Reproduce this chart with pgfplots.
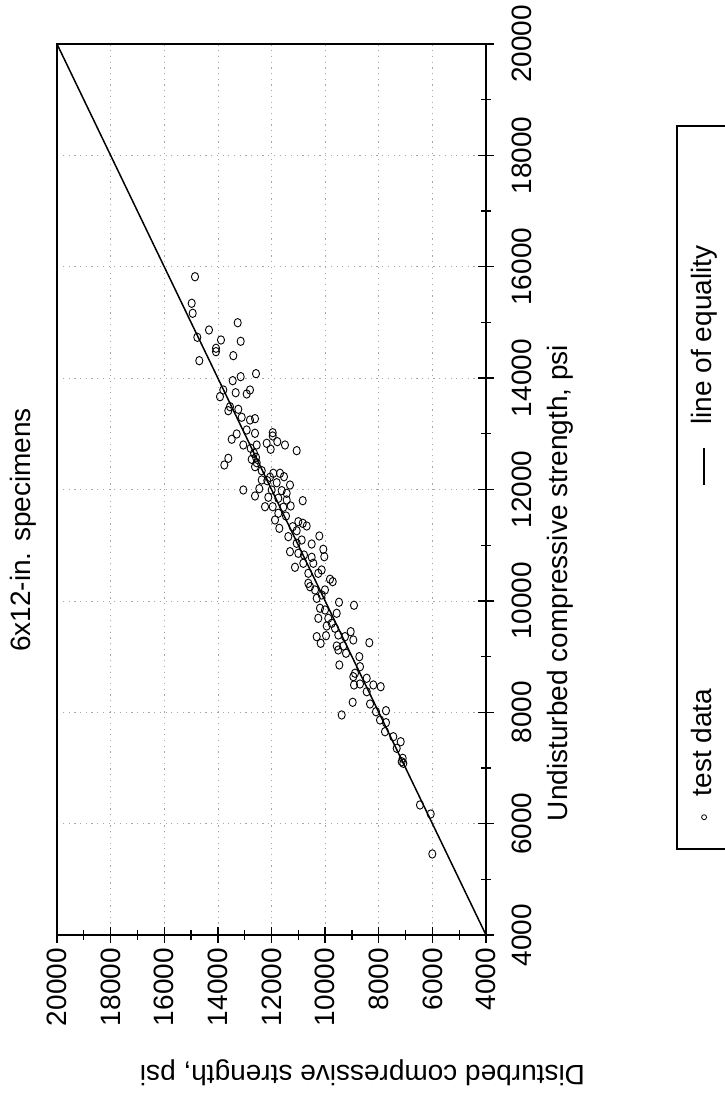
\documentclass[border=0pt]{standalone}
\usepackage{fontspec}
\setmainfont{Liberation Sans}
\usepackage{pgfplots}
\pgfplotsset{compat=1.18}
\newcommand\chartfont{\fontsize{28pt}{32pt}\selectfont}
\pgfplotsset{
  legmark/.style={legend image code/.code={\draw[##1] plot coordinates {(2.5pt,7pt)};}},
  legline/.style={legend image code/.code={\draw[##1] (0pt,7pt) -- (37pt,7pt);}},
}

\begin{document}
\begin{tikzpicture}
\useasboundingbox (0,0) rectangle (725pt,1095pt);
\begin{axis}[
  at={(57pt,160pt)}, anchor=south west,
  width=429pt, height=891pt, scale only axis,
  xmin=4000, xmax=20000, ymin=4000, ymax=20000,
  x dir=reverse,
  enlargelimits=false,
  axis line style={line width=2pt},
  xtick={4000,6000,...,20000}, ytick={4000,6000,...,20000},
  minor x tick num=1, minor y tick num=1,
  xtick pos=bottom, ytick pos=right, yticklabel pos=right,
  tick align=center,
  major tick length=16pt, minor tick length=10pt,
  every tick/.style={black, line width=1.3pt},
  grid=major,
  major grid style={gray!70, line width=0.7pt, dash pattern=on 1.2pt off 4.5pt},
  scaled ticks=false,
  /pgf/number format/set thousands separator={},
  /pgf/number format/assume math mode=true,
  tick label style={font=\chartfont},
  xticklabel style={rotate=90, anchor=east, inner xsep=5pt, inner ysep=0pt},
  yticklabel style={rotate=90, anchor=north, inner xsep=0pt, inner ysep=18pt},
  every axis title/.style={at={(axis description cs:-0.0629,0.4545)}, rotate=90, anchor=base, font=\chartfont},
  every axis x label/.style={at={(axis description cs:0.712,-0.1459)}, rotate=180, anchor=base, font=\chartfont},
  every axis y label/.style={at={(axis description cs:1.191,0.395)}, rotate=90, anchor=base, font=\chartfont},
  title={6x12-in. specimens},
  xlabel={Disturbed compressive strength, psi},
  ylabel={Undisturbed compressive strength, psi},
]
% test data: disturbed (D) against undisturbed (U) strength, psi
\addplot[only marks, mark=o, mark size=4.2pt,
  mark options={line width=0.9pt, xscale=0.85}]
  table[x=D, y=U] {
D U
14853 15821
14976 15344
14939 15164
13261 14995
14331 14864
14767 14733
13884 14685
13149 14661
14070 14536
14070 14475
13425 14403
14693 14313
12578 14080
13149 14026
13447 13954
13798 13787
12802 13787
13335 13738
12925 13715
13921 13667
13548 13487
13238 13440
13611 13415
13111 13297
12802 13248
12615 13272
12925 13069
12615 13009
13298 12997
11955 13020
11955 12961
13484 12902
11784 12859
11497 12799
12179 12830
13052 12799
12552 12799
12776 12740
12030 12722
11060 12697
12653 12650
12578 12578
13611 12560
12738 12542
12552 12481
13760 12440
12615 12410
12365 12338
11933 12291
11683 12291
12056 12219
11534 12230
12365 12171
12157 12158
11806 12122
11310 12081
12455 12015
13052 11991
11993 11991
11620 11979
11433 11932
12615 11883
12119 11860
11746 11842
11433 11812
10836 11799
12242 11691
11955 11691
11560 11681
11284 11704
11746 11573
11459 11524
11869 11452
11000 11422
10836 11393
10687 11345
11209 11332
11709 11303
11060 11260
10217 11165
11373 11153
10874 11093
11060 11034
10501 11021
10068 10926
11310 10883
11000 10854
10788 10824
10031 10793
10501 10783
10814 10675
10441 10675
11124 10603
10128 10555
10627 10495
10255 10495
9818 10388
9717 10345
10627 10316
10564 10255
10378 10196
10005 10196
10128 10106
10314 10046
9482 9975
8923 9921
10191 9867
10005 9836
9568 9777
10255 9687
9882 9687
9755 9597
9941 9549
9632 9508
9046 9447
9509 9387
10314 9357
9967 9375
9259 9357
8949 9298
8352 9249
10165 9238
9568 9190
9322 9190
9509 9118
9221 9059
8725 8998
9471 8849
8699 8818
8886 8700
8949 8639
8449 8610
8923 8490
8203 8490
7927 8459
8699 8507
8449 8369
8972 8179
8326 8148
8103 8010
7730 8028
9382 7951
7953 7861
7730 7813
7767 7651
7457 7561
7181 7471
7330 7353
7107 7173
7084 7083
7144 7112
6462 6335
6062 6173
6003 5455
};
% line of equality
\addplot[black, line width=1.5pt] coordinates {(4000,4000) (20000,20000)};
\end{axis}
% legend, set along the page's long side
\begin{scope}[transform canvas={rotate around={90:(676pt,245pt)}}]
\begin{axis}[
  at={(676pt,245pt)}, anchor=south west,
  scale only axis, width=1pt, height=1pt,
  hide axis, xmin=0, xmax=1, ymin=0, ymax=1,
  legend columns=2,
  legend style={
    at={(axis description cs:0,0)}, anchor=north west,
    draw=black, line width=1.6pt,
    inner xsep=29.5pt, inner ysep=14pt,
    font=\chartfont,
    nodes={inner sep=0pt},
    cells={anchor=base west},
    /tikz/column 1/.append style={column sep=18.5pt},
    /tikz/column 2/.append style={column sep=203pt},
    /tikz/column 3/.append style={column sep=23pt},
  },
]
\addlegendimage{black, only marks, mark=o, mark size=2.5pt, mark options={line width=0.8pt}, legmark}
\addlegendentry{test data}
\addlegendimage{black, line width=1.3pt, legline}
\addlegendentry{line of equality\rule{90pt}{0pt}}
\end{axis}
\end{scope}
\end{tikzpicture}
\end{document}
